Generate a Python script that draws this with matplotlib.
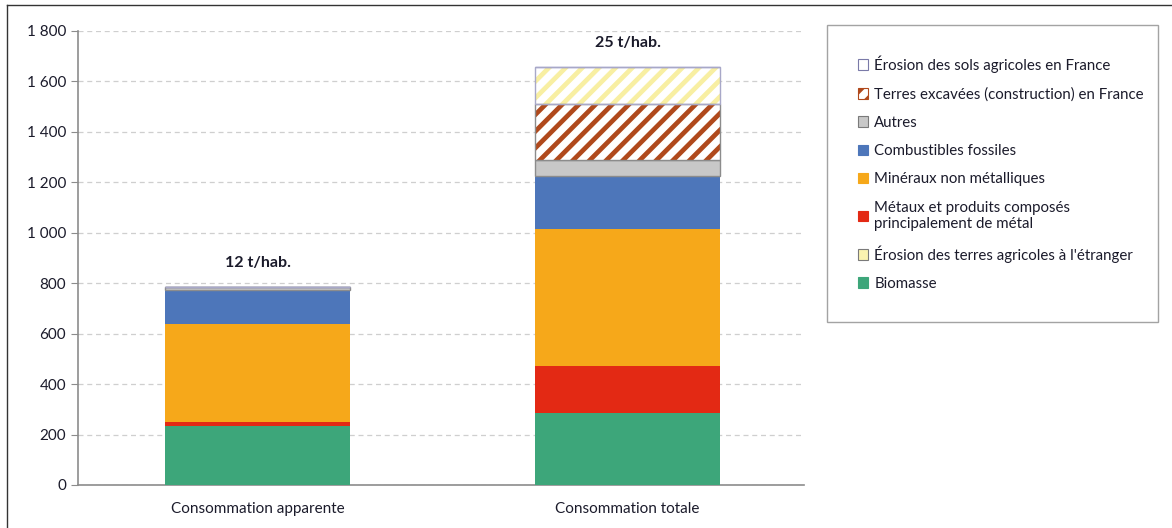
import numpy as np
import matplotlib.pyplot as plt
from matplotlib.patches import Patch
from matplotlib.lines import Line2D

plt.rcParams['font.family'] = ['Lato', 'DejaVu Sans']
plt.rcParams['hatch.linewidth'] = 3.4

categories = ['Consommation apparente', 'Consommation totale']
totals_labels = ['12 t/hab.', '25 t/hab.']

# séries empilées, du bas vers le haut
biomasse = [235, 287]
metaux = [16, 185]
mineraux = [389, 543]
combustibles = [134, 211]
autres = [12, 63]
terres_excavees = [0, 220]
erosion_etranger = [0, 147]
erosion_france = [0, 3]

series = [
    ('Biomasse', biomasse, '#3DA67A', None, None),
    ('Métaux et produits composés\nprincipalement de métal', metaux, '#E32914', None, None),
    ('Minéraux non métalliques', mineraux, '#F6A81A', None, None),
    ('Combustibles fossiles', combustibles, '#4D76BA', None, None),
    ('Autres', autres, '#C8C8C8', None, '#8C8C8C'),
    ('Terres excavées (construction) en France', terres_excavees, 'white', '#B0491C', '#8C8C8C'),
    ("Érosion des terres agricoles à l'étranger", erosion_etranger, 'white', '#F8EFA2', '#A8A8C8'),
    ('Érosion des sols agricoles en France', erosion_france, 'white', None, '#8F8FC8'),
]

fig = plt.figure(figsize=(11.72, 5.28), dpi=100)
ax = fig.add_axes([78 / 1172, 1 - 485 / 528, 726 / 1172, 454 / 528])

x = np.arange(len(categories))
width = 0.5
bottom = np.zeros(len(categories))
handles = {}
for name, vals, color, hatch, edge in series:
    vals = np.array(vals, dtype=float)
    if hatch:
        ax.bar(x, vals, width, bottom=bottom, color=color, edgecolor=hatch,
               hatch='//', linewidth=0, zorder=3)
        ax.bar(x, vals, width, bottom=bottom, fill=False, edgecolor=edge,
               linewidth=1, zorder=4)
    elif edge:
        ax.bar(x, vals, width, bottom=bottom, color=color, edgecolor=edge,
               linewidth=1, zorder=3)
    else:
        ax.bar(x, vals, width, bottom=bottom, color=color, linewidth=0, zorder=3)
    handles[name] = Patch(facecolor=color, edgecolor=hatch if hatch else (edge or color),
                          hatch='//' if hatch == '#B0491C' else None,
                          linewidth=0.8)
    bottom += vals

totals = bottom
for xi, t, lab in zip(x, totals, totals_labels):
    ax.annotate(lab, (xi, t), xytext=(0, 17), textcoords='offset points',
                ha='center', va='center', fontsize=11.5,
                fontweight='bold', color='#1b1b2b')

ax.set_xlim(-0.485, 1.477)
ax.set_ylim(0, 1800)
ax.set_yticks(np.arange(0, 1801, 200))
ax.set_yticklabels([f'{v:,}'.replace(',', ' ') for v in range(0, 1801, 200)])
ax.set_xticks(x)
ax.set_xticklabels(categories)
ax.tick_params(axis='x', length=0, pad=12, labelsize=11, labelcolor='#1b1b2b')
ax.tick_params(axis='y', length=5, color='#8C8C8C', labelsize=11, labelcolor='#1b1b2b')
ax.yaxis.grid(True, linestyle=(0, (4, 3)), color='#CFCFCF', linewidth=0.9, zorder=0)
ax.set_axisbelow(True)
for s in ['top', 'right']:
    ax.spines[s].set_visible(False)
for s in ['left', 'bottom']:
    ax.spines[s].set_color('#8C8C8C')
    ax.spines[s].set_linewidth(1.2)

order = ['Érosion des sols agricoles en France',
         'Terres excavées (construction) en France',
         'Autres',
         'Combustibles fossiles',
         'Minéraux non métalliques',
         'Métaux et produits composés\nprincipalement de métal',
         "Érosion des terres agricoles à l'étranger",
         'Biomasse']
handles["Érosion des terres agricoles à l'étranger"] = Patch(facecolor='#FBF3B0', edgecolor='#7a7a7a', linewidth=0.8)
handles['Érosion des sols agricoles en France'] = Patch(facecolor='white', edgecolor='#7a7aa8', linewidth=0.8)
handles['Autres'] = Patch(facecolor='#C8C8C8', edgecolor='#7a7a7a', linewidth=0.8)
leg = fig.legend([handles[k] for k in order], order,
                 loc='upper left',
                 bbox_to_anchor=(827 / 1172, 1 - 30 / 528, 331 / 1172, 0.01),
                 mode='expand', fontsize=10.8, frameon=True, fancybox=False,
                 edgecolor='#8C8C8C', handlelength=0.7, handleheight=0.7,
                 handletextpad=0.4, labelspacing=0.95, borderpad=2.05,
                 borderaxespad=0)
leg.get_frame().set_linewidth(1.0)
for t in leg.get_texts():
    t.set_color('#1b1b2b')

# cadre de la figure
fig.add_artist(Line2D([7 / 1172, 1], [1 - 5 / 528, 1 - 5 / 528], color='#333333', lw=1,
                      transform=fig.transFigure))
fig.add_artist(Line2D([7 / 1172, 7 / 1172], [0, 1 - 5 / 528], color='#333333', lw=1,
                      transform=fig.transFigure))

fig.savefig('out.png', dpi=100)
